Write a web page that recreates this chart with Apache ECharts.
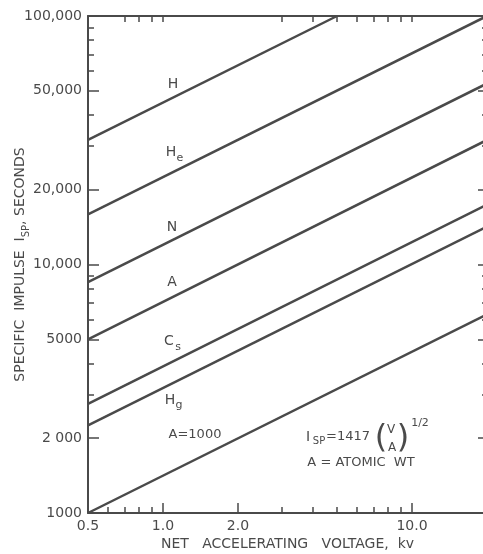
<!DOCTYPE html>
<html>
<head>
<meta charset="utf-8">
<script src="https://cdn.jsdelivr.net/npm/echarts@6/dist/echarts.min.js"></script>
<style>
  html, body { margin: 0; padding: 0; background: #fff; }
  #chart { width: 483px; height: 554px; }
</style>
</head>
<body>
<div id="chart"></div>
<script>
// lines: I_sp = 1417 (V/A)^1/2, end points
const elements = ['H', 'He', 'N', 'A', 'Cs', 'Hg', 'A=1000'];
const startKv = [0.5, 0.5, 0.5, 0.5, 0.5, 0.5, 0.5];
const startIsp = [31700, 15900, 8500, 5000, 2750, 2250, 1000];
const endKv = [5.0, 20, 20, 20, 20, 20, 20];
const endIsp = [100000, 100000, 53500, 31700, 17400, 14200, 6300];

// axis ticks and labels
const xLabelValues = [0.5, 1, 2, 10];
const xLabelTexts = ['0.5', '1.0', '2.0', '10.0'];
const xMajorTicks = [1, 2, 10];
const xMinorTicks = [0.6, 0.7, 0.8, 0.9, 3, 4, 5, 6, 7, 8, 9];
const xTopTicks = [0.7, 0.8, 0.9, 1, 3, 4, 5, 6, 7, 8, 9, 10];
const yLabelValues = [1000, 2000, 5000, 10000, 20000, 50000, 100000];
const yLabelTexts = ['1000', '2 000', '5000', '10,000', '20,000', '50,000', '100,000'];
const yMinorTicks = [3000, 4000, 6000, 7000, 8000, 9000, 30000, 40000, 60000, 70000, 80000, 90000];
const yRightMajor = [2000, 5000, 10000, 20000, 50000];

const X_MIN = 0.5, X_MAX = 20, Y_MIN = 1000, Y_MAX = 100000;
const INK = '#4a4a4a';
const FONT = 'DejaVu Sans';

const lg = v => Math.log10(v);
const lgList = arr => arr.map(lg);
const labelText = (vals, texts) => v => {
  let i = vals.findIndex(t => Math.abs(lg(t) - v) < 1e-6);
  return i >= 0 ? texts[i] : '';
};

let chart = echarts.init(document.getElementById('chart'));

// overlay axes in log space, only used for ticks and labels
function tickAxis(pos, min, max, ticks, len, extra) {
  let ax = {
    type: 'value', position: pos, min: lg(min), max: lg(max),
    axisLine: { show: false, onZero: false },
    axisTick: { show: true, inside: true, length: len, customValues: lgList(ticks),
      lineStyle: { color: INK, width: 1.5 } },
    axisLabel: { show: false },
    splitLine: { show: false }
  };
  return Object.assign(ax, extra || {});
}
const solidLine = { show: true, onZero: false, lineStyle: { color: INK, width: 2 } };

var option = {
  animation: false,
  backgroundColor: '#fff',
  grid: { left: 88, right: -4, top: 16, bottom: 41, outerBoundsMode: 'none' },
  xAxis: [
    { type: 'log', logBase: 10, min: X_MIN, max: X_MAX, show: false },
    tickAxis('bottom', X_MIN, X_MAX, xMajorTicks, 10, {
      axisLine: solidLine,
      axisLabel: { show: true, customValues: lgList(xLabelValues), margin: 6,
        formatter: labelText(xLabelValues, xLabelTexts),
        color: INK, fontFamily: FONT, fontSize: 14 },
      name: 'NET   ACCELERATING   VOLTAGE,  kv', nameLocation: 'middle', nameGap: 24,
      nameMoveOverlap: false,
      nameTextStyle: { color: INK, fontFamily: FONT, fontSize: 14 }
    }),
    tickAxis('bottom', X_MIN, X_MAX, xMinorTicks, 6),
    tickAxis('top', X_MIN, X_MAX, xTopTicks, 6, { axisLine: solidLine })
  ],
  yAxis: [
    { type: 'log', logBase: 10, min: Y_MIN, max: Y_MAX, show: false },
    tickAxis('left', Y_MIN, Y_MAX, yLabelValues, 11, {
      axisLine: solidLine,
      axisLabel: { show: true, customValues: lgList(yLabelValues), margin: 6,
        formatter: labelText(yLabelValues, yLabelTexts),
        color: INK, fontFamily: FONT, fontSize: 14 },
      name: 'SPECIFIC  IMPULSE  I{sub|SP}, SECONDS', nameLocation: 'middle', nameGap: 75,
      nameMoveOverlap: false,
      nameTextStyle: { color: INK, fontFamily: FONT, fontSize: 14, lineHeight: 15, verticalAlign: 'top',
        rich: { sub: { fontSize: 10, lineHeight: 10, padding: [8, 0, 0, 0], verticalAlign: 'top',
          color: INK, fontFamily: FONT } } }
    }),
    tickAxis('left', Y_MIN, Y_MAX, yMinorTicks, 6),
    tickAxis('right', Y_MIN, Y_MAX, yRightMajor, 9),
    tickAxis('right', Y_MIN, Y_MAX, yMinorTicks, 5)
  ],
  series: elements.map((name, i) => ({
    name: name,
    type: 'line',
    xAxisIndex: 0,
    yAxisIndex: 0,
    symbol: 'none',
    silent: true,
    lineStyle: { color: INK, width: 2.5 },
    data: [[startKv[i], startIsp[i]], [endKv[i], endIsp[i]]]
  })),
  graphic: [
    ['H', 173, 84, 14], ['H', 171, 152, 14], ['e', 180, 158, 11],
    ['N', 172, 227, 14], ['A', 172, 282, 14],
    ['C', 169, 341, 14], ['s', 178, 347, 11],
    ['H', 170, 400, 14], ['g', 179, 405, 11],
    ['A=1000', 195, 435, 13],
    ['I', 308, 437, 14], ['SP', 319, 441, 10], ['=1417', 348, 437, 13],
    ['(', 381, 439, 32], ['V', 391, 430, 12], ['A', 392, 448, 12], [')', 403, 439, 32],
    ['1/2', 420, 423, 11],
    ['A = ATOMIC  WT', 361, 463, 13]
  ].map(t => ({
    type: 'text', x: t[1], y: t[2], silent: true,
    style: { text: t[0], fill: INK, font: t[3] + 'px "' + FONT + '"',
      textAlign: 'center', textVerticalAlign: 'middle' }
  }))
};

chart.setOption(option);
window.addEventListener('resize', () => {
  chart.resize();
});
</script>
</body>
</html>
